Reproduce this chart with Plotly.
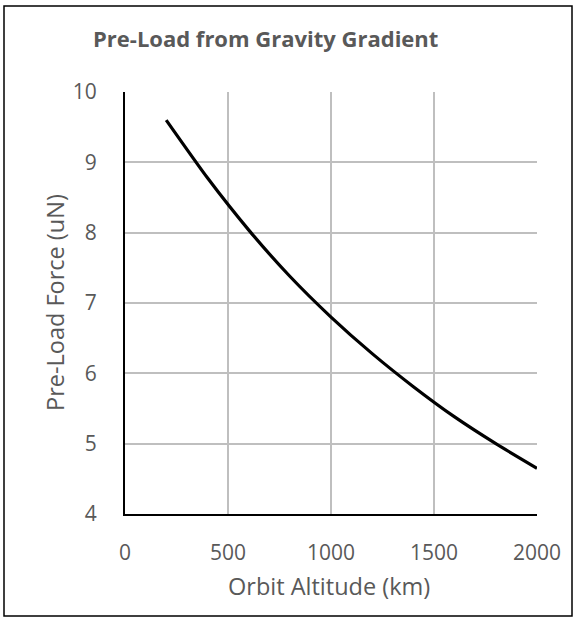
import plotly.graph_objects as go

# Orbit altitude (km) and the resulting pre-load force (uN)
altitude_km = [200, 400, 600, 800, 1000, 1200, 1400, 1600, 1800, 2000]
preload_uN = [9.60, 8.78, 8.04, 7.38, 6.80, 6.28, 5.81, 5.38, 5.00, 4.65]

x_ticks = [0, 500, 1000, 1500, 2000]
y_ticks = [4, 5, 6, 7, 8, 9, 10]

W, H = 587, 628
L, R, T, B = 125, 50, 92, 114
pw, ph = W - L - R, H - T - B

TEXT = "#595959"
GRID = "#bfbfbf"
FONT = "'Open Sans', sans-serif"

fig = go.Figure()
fig.add_trace(go.Scatter(
    x=altitude_km, y=preload_uN, mode="lines",
    line=dict(color="black", width=3.2, shape="spline", smoothing=0.6),
    showlegend=False, hoverinfo="skip",
))

def px_x(p):
    return (p - L) / pw

def px_y(p):
    return 1 - (p - T) / ph

fig.update_layout(
    width=W, height=H,
    margin=dict(l=L, r=R, t=T, b=B),
    paper_bgcolor="white", plot_bgcolor="white",
    font=dict(family=FONT, size=21, color=TEXT),
    xaxis=dict(
        range=[0, 2000], tickvals=x_ticks, showgrid=True, gridcolor=GRID,
        gridwidth=1.5, zeroline=False, showline=True, linecolor="black",
        linewidth=2, ticks="", ticklabelstandoff=19,
    ),
    yaxis=dict(
        range=[4, 10], tickvals=y_ticks, showgrid=True, gridcolor=GRID,
        gridwidth=1.5, zeroline=False, showline=True, linecolor="black",
        linewidth=2, ticks="", ticklabelstandoff=22,
    ),
    annotations=[
        dict(
            text="<b>Pre-Load from Gravity Gradient</b>",
            xref="paper", yref="paper", x=px_x(91), y=px_y(38),
            xanchor="left", yanchor="middle", showarrow=False,
            font=dict(family=FONT, size=22, color=TEXT),
        ),
        dict(
            text="Orbit Altitude (km)",
            xref="paper", yref="paper", x=px_x(329), y=px_y(586),
            xanchor="center", yanchor="middle", showarrow=False,
            font=dict(family=FONT, size=23.5, color=TEXT),
        ),
        dict(
            text="Pre-Load Force (uN)", textangle=-90,
            xref="paper", yref="paper", x=px_x(55), y=px_y(303),
            xanchor="center", yanchor="middle", showarrow=False,
            font=dict(family=FONT, size=23.5, color=TEXT),
        ),
    ],
    shapes=[dict(
        type="rect", xref="paper", yref="paper",
        x0=px_x(4), x1=px_x(572), y0=px_y(6), y1=px_y(616),
        line=dict(color="black", width=1.5), fillcolor="rgba(0,0,0,0)",
        layer="below",
    )],
)

fig.write_html("out.html")
